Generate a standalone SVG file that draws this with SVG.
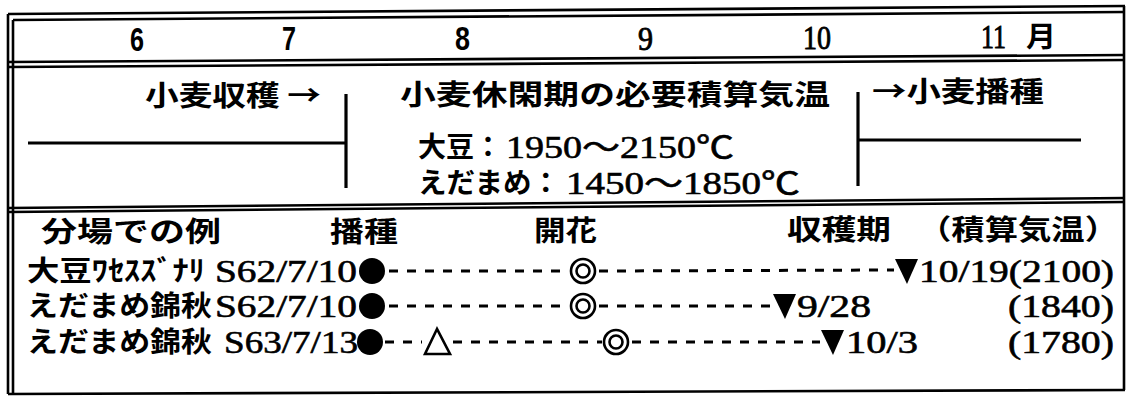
<svg xmlns="http://www.w3.org/2000/svg" width="1127" height="397" viewBox="0 0 1127 397">
<style>
.frame{stroke:#000;stroke-width:2.6;fill:none}
.bar{stroke:#000;stroke-width:3.2;fill:none}
.dash{stroke:#000;stroke-width:3;stroke-dasharray:9 9;fill:none}
.jp{font-family:"Noto Sans CJK JP","Noto Sans",sans-serif;font-size:28px;font-weight:bold;fill:#000}
.num{font-family:"Liberation Sans","DejaVu Sans",sans-serif;font-size:34px;font-weight:bold;fill:#000}
.mon{font-family:"Liberation Serif","DejaVu Serif",serif;font-size:34px;fill:#000;stroke:#000;stroke-width:0.9}
.ser{font-family:"Liberation Serif","Noto Sans CJK JP",serif;font-size:31px;fill:#000;stroke:#000;stroke-width:0.6}
.mk{fill:#000}
.ring{fill:none;stroke:#000;stroke-width:2.6}
</style>
<rect width="1127" height="397" fill="#fff"/>
<g id="frame">
<line class="frame" x1="8" y1="14" x2="1125" y2="6"/>
<line class="frame" x1="13" y1="20" x2="1125" y2="12"/>
<line class="frame" x1="8" y1="62" x2="1125" y2="55"/>
<line class="frame" x1="8" y1="67" x2="1125" y2="60"/>
<line class="frame" x1="8" y1="208" x2="1125" y2="198"/>
<line class="frame" x1="8" y1="212" x2="1125" y2="202"/>
<line class="frame" x1="8" y1="394" x2="1125" y2="390"/>
<line class="frame" x1="8" y1="14" x2="8" y2="394"/>
<line class="frame" x1="13" y1="20" x2="13" y2="394"/>
<line class="frame" x1="1124" y1="6" x2="1124" y2="390"/>
</g>
<g id="months">
<text class="num" x="130" y="51" textLength="14" lengthAdjust="spacingAndGlyphs">6</text>
<text class="num" x="282" y="50" textLength="14" lengthAdjust="spacingAndGlyphs">7</text>
<text class="num" x="455" y="50" textLength="15" lengthAdjust="spacingAndGlyphs">8</text>
<text class="mon" x="638" y="50" textLength="15" lengthAdjust="spacingAndGlyphs">9</text>
<text class="mon" x="803" y="49" textLength="28" lengthAdjust="spacingAndGlyphs">10</text>
<text class="mon" x="981" y="48" textLength="25" lengthAdjust="spacingAndGlyphs">11</text>
<text class="jp" x="1026" y="47" textLength="30" lengthAdjust="spacingAndGlyphs">月</text>
</g>
<g id="node-wheat-harvest">
<text class="jp" x="145" y="106" textLength="176" lengthAdjust="spacingAndGlyphs">小麦収穫 →</text>
<line class="bar" x1="28" y1="143" x2="346" y2="143"/>
<line class="bar" x1="346" y1="94" x2="346" y2="188"/>
</g>
<g id="node-fallow">
<text class="jp" x="400" y="105" textLength="430" lengthAdjust="spacingAndGlyphs">小麦休閑期の必要積算気温</text>
<text class="jp" x="418" y="157" textLength="84" lengthAdjust="spacingAndGlyphs">大豆：</text>
<text class="ser" x="506" y="158" textLength="228" lengthAdjust="spacingAndGlyphs">1950〜2150℃</text>
<text class="jp" x="418" y="193" textLength="142" lengthAdjust="spacingAndGlyphs">えだまめ：</text>
<text class="ser" x="566" y="194" textLength="234" lengthAdjust="spacingAndGlyphs">1450〜1850℃</text>
</g>
<g id="node-wheat-sowing">
<text class="jp" x="872" y="102" textLength="172" lengthAdjust="spacingAndGlyphs">→小麦播種</text>
<line class="bar" x1="858" y1="92" x2="858" y2="186"/>
<line class="bar" x1="858" y1="140" x2="1081" y2="140"/>
</g>
<g id="header">
<text class="jp" x="41" y="242" textLength="180" lengthAdjust="spacingAndGlyphs">分場での例</text>
<text class="jp" x="330" y="242" textLength="68" lengthAdjust="spacingAndGlyphs">播種</text>
<text class="jp" x="534" y="241" textLength="63" lengthAdjust="spacingAndGlyphs">開花</text>
<text class="jp" x="787" y="240" textLength="104" lengthAdjust="spacingAndGlyphs">収穫期</text>
<text class="jp" x="918" y="240" textLength="200" lengthAdjust="spacingAndGlyphs">（積算気温）</text>
</g>
<g id="connectors">
<line class="dash" x1="389" y1="271" x2="568" y2="271"/>
<line class="dash" x1="599" y1="271" x2="894" y2="270"/>
<line class="dash" x1="389" y1="306" x2="568" y2="306"/>
<line class="dash" x1="599" y1="306" x2="772" y2="306"/>
<line class="dash" x1="385" y1="342" x2="422" y2="342"/>
<line class="dash" x1="453" y1="342" x2="602" y2="342"/>
<line class="dash" x1="632" y1="342" x2="820" y2="342"/>
</g>
<g id="row-1">
<text class="jp" x="27" y="281" textLength="178" lengthAdjust="spacingAndGlyphs">大豆ﾜｾｽｽﾞﾅﾘ</text>
<text class="ser" x="215" y="282" textLength="142" lengthAdjust="spacingAndGlyphs">S62/7/10</text>
<circle class="mk" cx="372" cy="271" r="13"/>
<circle class="ring" cx="583" cy="271" r="12"/>
<circle class="ring" cx="583" cy="271" r="6.5"/>
<polygon class="mk" points="895,259 918,259 907,284"/>
<text class="ser" x="919" y="282" textLength="195" lengthAdjust="spacingAndGlyphs">10/19(2100)</text>
</g>
<g id="row-2">
<text class="jp" x="27" y="316" textLength="185" lengthAdjust="spacingAndGlyphs">えだまめ錦秋</text>
<text class="ser" x="215" y="317" textLength="142" lengthAdjust="spacingAndGlyphs">S62/7/10</text>
<circle class="mk" cx="372" cy="306" r="13"/>
<circle class="ring" cx="583" cy="306" r="12"/>
<circle class="ring" cx="583" cy="306" r="6.5"/>
<polygon class="mk" points="773,294 796,294 785,319"/>
<text class="ser" x="797" y="317" textLength="74" lengthAdjust="spacingAndGlyphs">9/28</text>
<text class="ser" x="1008" y="317" textLength="106" lengthAdjust="spacingAndGlyphs">(1840)</text>
</g>
<g id="row-3">
<text class="jp" x="27" y="352" textLength="185" lengthAdjust="spacingAndGlyphs">えだまめ錦秋</text>
<text class="ser" x="224" y="353" textLength="134" lengthAdjust="spacingAndGlyphs">S63/7/13</text>
<circle class="mk" cx="370" cy="342" r="13"/>
<polygon fill="none" stroke="#000" stroke-width="2.6" points="437,329 425,354 450,354"/>
<circle class="ring" cx="616" cy="342" r="12"/>
<circle class="ring" cx="616" cy="342" r="6.5"/>
<polygon class="mk" points="821,330 844,330 833,355"/>
<text class="ser" x="846" y="353" textLength="72" lengthAdjust="spacingAndGlyphs">10/3</text>
<text class="ser" x="1008" y="353" textLength="106" lengthAdjust="spacingAndGlyphs">(1780)</text>
</g>
</svg>
